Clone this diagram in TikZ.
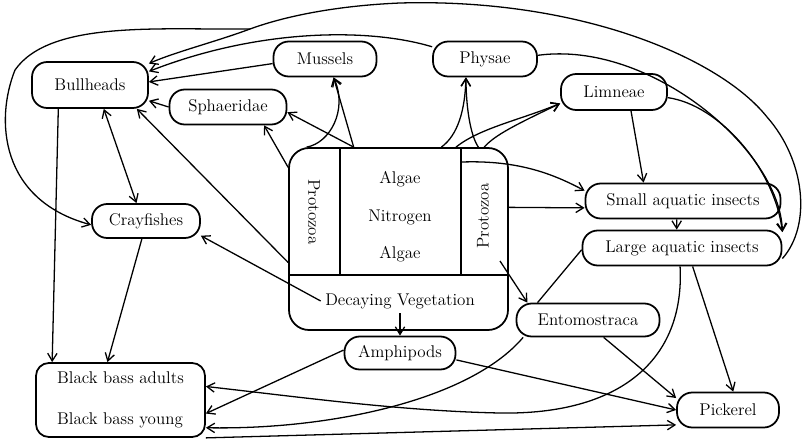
\documentclass[tikz,border=0pt]{standalone}
\usetikzlibrary{arrows.meta}
\begin{document}
\begin{tikzpicture}[x=0.03cm,y=-0.03cm,line width=1.1pt,
    >={Straight Barb[length=6.5pt,width=8pt]},
    every node/.style={font=\fontsize{14.5}{17}\selectfont},
    box/.style={draw,line width=1.5pt,rounded corners=13pt,minimum height=1.05cm,inner sep=2pt}]
    \useasboundingbox (0,0) rectangle (804,442);

    % 生物
    \node[box,minimum width=3.48cm,minimum height=1.38cm] (bull) at (90,85) {Bullheads};
    \node[box,minimum width=3.09cm] (mussels) at (325,59) {Mussels};
    \node[box,minimum width=3.12cm] (physae) at (485,59) {Physae};
    \node[box,minimum width=3.51cm] (sphaer) at (228,107) {Sphaeridae};
    \node[box,minimum width=3.18cm,minimum height=1.08cm] (limneae) at (614,92) {Limneae};
    \node[box,minimum width=5.85cm] (small) at (683,201) {Small aquatic insects};
    \node[box,minimum width=5.97cm] (large) at (682,248) {Large aquatic insects};
    \node[box,minimum width=3.24cm,minimum height=1.02cm] (cray) at (146,221) {Crayfishes};
    \node[box,minimum width=4.29cm,minimum height=0.99cm] (ento) at (588,320) {Entomostraca};
    \node[box,minimum width=3.33cm,minimum height=0.99cm] (amphi) at (400,353) {Amphipods};
    \node[box,minimum width=3.06cm] (pick) at (728,410) {Pickerel};
    \node[box,minimum width=5.07cm,minimum height=2.22cm,align=left,rounded corners=11pt] (bass) at (120.5,400)
        {Black bass adults\\[18pt]Black bass young};

    % 中央の池
    \node[draw,line width=1.5pt,rounded corners=0.6cm,minimum width=6.57cm,minimum height=5.46cm] (pond) at (398.5,239) {};
    \draw[line width=1.3pt] (340,148) -- (340,275);
    \draw[line width=1.3pt] (461,148) -- (461,275);
    \draw[line width=1.3pt] (pond.west |- 0,275) -- (pond.east |- 0,275);
    \node[rotate=-90] (protoL) at (314,212) {Protozoa};
    \node[rotate=90] (protoR) at (483,216) {Protozoa};
    \node (algae1) at (400,179) {Algae};
    \node (nitro) at (400,217) {Nitrogen};
    \node (algae2) at (400,254) {Algae};
    \node (decay) at (400,301) {Decaying Vegetation};
    \coordinate (rdiv) at (462,162);
    \coordinate (rcol) at (500,261);
    \coordinate (split) at (250,29);

    % 外側の弧
    \draw (large.-6) .. controls (812,225) and (805,160) .. (767,117)
        .. controls (720,58) and (580,-2) .. (400,3)
        .. controls (330,6) and (280,18) .. (split);
    \draw[->] (split) .. controls (215,42) and (175,52) .. (bull.20);
    \draw[->] (split) .. controls (160,30) and (50,20) .. (15,70)
        .. controls (-5,120) and (0,200) .. (cray.184);
    \draw[->] (physae.167) .. controls (370,28) and (260,28) .. (bull.13);
    \draw[->] (physae.4) .. controls (650,40) and (780,150) .. (large.9);
    \draw[->] (limneae.-6) .. controls (720,105) and (775,170) .. (large.9);

    % 池から
    \draw[->] (mussels.185) -- (bull.3);
    \draw[->] (sphaer.west) -- (bull.-15);
    \draw[->] (pond.192) -- (bull.-27);
    \draw[->] (pond.147) -- (sphaer.-27);
    \draw[->] (pond.116) -- (sphaer.-5);
    \draw[->] (pond.116) -- (mussels.-65);
    \draw[->] (pond.135) .. controls (330,143) and (348,110) .. (mussels.-65);
    \draw[->] (pond.65) .. controls (458,135) and (465,110) .. (physae.224);
    \draw[->] (pond.49) .. controls (470,135) and (466,105) .. (physae.224);
    \draw[->] (pond.58) .. controls (480,128) and (520,120) .. (limneae.192);
    \draw[->] (pond.47) .. controls (495,135) and (515,125) .. (limneae.192);
    \draw[->] (rdiv) .. controls (520,160) and (555,175) .. (small.174);
    \draw[->] (pond.16) -- (small.184);
    \draw[->] (rcol) -- (ento.164);
    \draw[->] (decay.south) -- (amphi.north);
    \draw[->] (decay.west) -- (cray.-15);

    % 昆虫
    \draw[->] (limneae.-48) -- (small.155);
    \draw[->] (small.251) -- (large.106);
    \draw (ento.161) -- (large.181);
    \draw[->] (large.-60) -- (pick.74);
    \draw[->] (large.264) .. controls (685,360) and (620,415) .. (500,413)
        .. controls (400,411) and (300,397) .. (bass.9);

    % 魚
    \draw[<->] (bull.-60) -- (cray.118);
    \draw[->] (bull.217) -- (bass.151);
    \draw[->] (cray.257) -- (bass.109);
    \draw[->] (amphi.177) -- (bass.-9);
    \draw[->] (amphi.-7) -- (pick.west);
    \draw[->] (ento.-48) -- (pick.167);
    \draw[->] (ento.195) .. controls (470,400) and (330,430) .. (bass.-18);
    \draw[->] (bass.south east) -- (pick.196);
\end{tikzpicture}
\end{document}
